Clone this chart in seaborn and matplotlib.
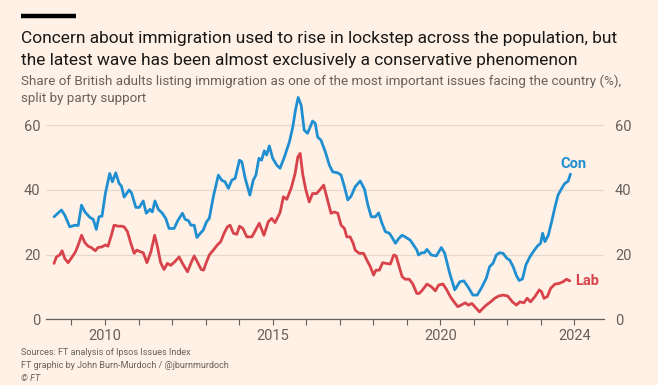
import matplotlib
matplotlib.use("Agg")
import matplotlib.pyplot as plt
from matplotlib import font_manager
from matplotlib.lines import Line2D
import pandas as pd
import seaborn as sns

# ── data ──
con_year = [2008.48, 2008.70, 2008.80, 2008.95, 2009.10, 2009.20, 2009.30, 2009.40, 2009.55, 2009.65,
            2009.74, 2009.82, 2009.91, 2010.01, 2010.14, 2010.22, 2010.32, 2010.42, 2010.49, 2010.57,
            2010.72, 2010.79, 2010.92, 2011.02, 2011.14, 2011.23, 2011.34, 2011.41, 2011.49, 2011.59,
            2011.71, 2011.81, 2011.91, 2012.06, 2012.18, 2012.31, 2012.39, 2012.49, 2012.56, 2012.66,
            2012.74, 2012.86, 2012.93, 2013.03, 2013.11, 2013.23, 2013.38, 2013.48, 2013.58, 2013.68,
            2013.78, 2013.88, 2014.01, 2014.08, 2014.18, 2014.32, 2014.42, 2014.50, 2014.59, 2014.67,
            2014.75, 2014.82, 2014.90, 2015.00, 2015.12, 2015.22, 2015.35, 2015.50, 2015.60, 2015.68,
            2015.76, 2015.85, 2015.94, 2016.04, 2016.12, 2016.19, 2016.27, 2016.34, 2016.44, 2016.57,
            2016.69, 2016.79, 2016.94, 2017.04, 2017.14, 2017.24, 2017.34, 2017.46, 2017.61, 2017.74,
            2017.84, 2017.94, 2018.06, 2018.16, 2018.26, 2018.36, 2018.48, 2018.58, 2018.66, 2018.76,
            2018.86, 2018.95, 2019.10, 2019.20, 2019.30, 2019.35, 2019.45, 2019.53, 2019.60, 2019.73,
            2019.88, 2020.03, 2020.13, 2020.28, 2020.43, 2020.58, 2020.70, 2020.82, 2020.97, 2021.10,
            2021.22, 2021.37, 2021.47, 2021.57, 2021.67, 2021.77, 2021.87, 2021.98, 2022.07, 2022.17,
            2022.27, 2022.35, 2022.45, 2022.55, 2022.67, 2022.77, 2022.89, 2022.99, 2023.05, 2023.12,
            2023.22, 2023.32, 2023.42, 2023.51, 2023.62, 2023.71, 2023.81, 2023.88]
con_share = [31.7, 33.8, 32.2, 28.6, 29.1, 29.0, 35.3, 33.2, 31.5, 30.9,
             27.8, 31.7, 31.9, 38.9, 45.1, 42.5, 45.3, 42.0, 41.2, 37.8,
             40.0, 39.1, 34.6, 34.6, 36.6, 32.8, 34.0, 33.2, 36.6, 34.0,
             32.8, 31.2, 28.1, 28.1, 30.7, 32.8, 30.9, 30.5, 29.1, 29.1,
             25.3, 26.8, 27.6, 30.2, 31.2, 37.9, 44.6, 43.0, 42.5, 40.5,
             43.0, 43.6, 49.2, 48.7, 43.6, 38.4, 43.0, 44.6, 49.8, 49.2,
             52.1, 50.8, 53.6, 49.8, 47.7, 46.7, 50.2, 54.9, 59.5, 64.7,
             68.6, 66.2, 58.5, 57.5, 59.5, 61.3, 60.6, 56.4, 55.4, 51.8,
             47.7, 45.6, 45.3, 44.6, 41.0, 36.9, 38.1, 41.0, 42.8, 40.2,
             35.3, 31.7, 31.7, 32.9, 29.7, 27.1, 26.6, 25.0, 23.5, 25.0,
             26.0, 25.5, 24.5, 23.0, 21.4, 19.9, 20.6, 20.6, 21.6, 19.9,
             19.6, 22.2, 20.4, 14.2, 9.1, 11.6, 11.9, 10.1, 7.5, 7.5,
             9.6, 12.7, 16.3, 17.3, 19.9, 20.6, 20.4, 18.9, 18.3, 16.3,
             13.5, 12.0, 12.5, 16.8, 19.3, 20.9, 22.6, 23.5, 26.6, 24.0,
             26.0, 30.2, 34.8, 38.4, 40.5, 42.0, 42.7, 44.9]

lab_year = [2008.48, 2008.55, 2008.65, 2008.72, 2008.80, 2008.90, 2009.02, 2009.12, 2009.22, 2009.30,
            2009.40, 2009.50, 2009.59, 2009.71, 2009.79, 2009.91, 2010.01, 2010.09, 2010.19, 2010.27,
            2010.39, 2010.49, 2010.57, 2010.67, 2010.77, 2010.87, 2010.95, 2011.05, 2011.14, 2011.25,
            2011.37, 2011.48, 2011.56, 2011.66, 2011.76, 2011.86, 2011.96, 2012.08, 2012.21, 2012.31,
            2012.46, 2012.56, 2012.66, 2012.75, 2012.87, 2012.94, 2013.01, 2013.11, 2013.23, 2013.35,
            2013.45, 2013.55, 2013.65, 2013.73, 2013.83, 2013.93, 2014.01, 2014.11, 2014.23, 2014.38,
            2014.50, 2014.60, 2014.74, 2014.87, 2014.97, 2015.07, 2015.22, 2015.32, 2015.42, 2015.55,
            2015.67, 2015.75, 2015.82, 2015.90, 2015.99, 2016.09, 2016.19, 2016.31, 2016.42, 2016.52,
            2016.61, 2016.74, 2016.84, 2016.94, 2017.04, 2017.14, 2017.21, 2017.31, 2017.40, 2017.46,
            2017.58, 2017.71, 2017.81, 2017.91, 2018.01, 2018.08, 2018.18, 2018.28, 2018.38, 2018.51,
            2018.61, 2018.68, 2018.76, 2018.86, 2018.95, 2019.07, 2019.17, 2019.30, 2019.37, 2019.47,
            2019.60, 2019.73, 2019.85, 2019.95, 2020.08, 2020.18, 2020.31, 2020.43, 2020.52, 2020.62,
            2020.74, 2020.84, 2020.94, 2021.07, 2021.17, 2021.27, 2021.37, 2021.50, 2021.62, 2021.74,
            2021.87, 2022.01, 2022.15, 2022.27, 2022.37, 2022.49, 2022.59, 2022.69, 2022.82, 2022.95,
            2023.02, 2023.09, 2023.19, 2023.29, 2023.42, 2023.54, 2023.66, 2023.76, 2023.86]
lab_share = [17.3, 19.3, 19.9, 21.2, 18.8, 17.5, 19.3, 20.9, 23.5, 26.0,
             23.7, 22.6, 22.2, 21.2, 22.2, 22.4, 23.0, 22.6, 26.0, 29.1,
             28.8, 28.8, 28.6, 27.1, 23.5, 20.4, 21.4, 20.9, 20.6, 17.5,
             20.9, 26.0, 22.6, 17.5, 15.4, 17.3, 16.7, 17.8, 19.3, 17.3,
             14.7, 17.3, 19.6, 17.8, 15.4, 15.2, 17.3, 19.9, 21.4, 23.0,
             24.0, 26.6, 28.6, 29.1, 26.6, 26.3, 28.8, 28.1, 25.5, 25.5,
             27.8, 29.7, 26.0, 30.2, 31.2, 29.9, 33.0, 37.9, 37.1, 40.5,
             45.1, 50.2, 51.3, 44.6, 40.0, 36.3, 38.9, 38.9, 40.2, 41.5,
             37.9, 32.8, 33.2, 32.8, 29.1, 28.1, 25.5, 25.5, 23.5, 21.4,
             20.4, 20.4, 18.3, 16.3, 13.7, 15.2, 15.2, 17.5, 17.3, 17.1,
             19.9, 19.6, 16.8, 13.2, 12.4, 12.4, 11.1, 8.0, 8.0, 9.1,
             10.9, 10.1, 8.8, 10.6, 10.9, 9.3, 6.8, 5.1, 3.9, 4.4,
             5.1, 4.4, 4.9, 3.4, 2.3, 3.4, 4.4, 5.4, 6.5, 7.2,
             7.5, 7.2, 5.4, 4.4, 5.4, 5.1, 6.5, 5.4, 7.0, 9.1,
             8.5, 6.5, 7.0, 9.6, 10.9, 11.1, 11.6, 12.4, 11.9]

y_ticks = [0, 20, 40, 60]
year_ticks = list(range(2009, 2025))
year_labels = [2010, 2015, 2020, 2024]

# ── 样式 ──
BG = "#fff1e5"
CON = "#1f8fd2"
LAB = "#d8434b"
GREY = "#66605c"
GRID = "#e5d9cf"

sns.set_theme(style="white")
names = {f.name for f in font_manager.fontManager.ttflist}
family = [f for f in ["Liberation Sans Narrow", "Roboto", "DejaVu Sans"] if f in names]
plt.rcParams["font.family"] = family

df = pd.concat([
    pd.DataFrame({"year": con_year, "share": con_share, "party": "Con"}),
    pd.DataFrame({"year": lab_year, "share": lab_share, "party": "Lab"}),
])

fig = plt.figure(figsize=(6.58, 3.85), dpi=100, facecolor=BG)
ax = fig.add_axes([0.0699, 0.1706, 0.848, 0.588])
ax.set_facecolor(BG)

sns.lineplot(data=df, x="year", y="share", hue="party",
             palette={"Con": CON, "Lab": LAB}, linewidth=2.0,
             estimator=None, sort=False, legend=False, ax=ax)

ax.set_xlim(2008.24, 2024.88)
ax.set_ylim(0, 70)
ax.set_xlabel("")
ax.set_ylabel("")

ax.set_xticks(year_ticks)
ax.set_xticklabels([str(y) if y in year_labels else "" for y in year_ticks])
ax.tick_params(axis="x", direction="out", length=4, width=0.8, color=GREY,
               labelcolor=GREY, labelsize=10.5, pad=3, bottom=True)

ax.set_yticks(y_ticks)
ax.tick_params(axis="y", length=0, labelcolor=GREY, labelsize=10.5, pad=4)
ax.yaxis.grid(True, color=GRID, linewidth=0.9)
ax.xaxis.grid(False)
for side in ["top", "left", "right"]:
    ax.spines[side].set_visible(False)
ax.spines["bottom"].set_color(GREY)
ax.spines["bottom"].set_linewidth(0.9)
ax.spines["bottom"].set_zorder(3)

# 右侧刻度
ax2 = ax.twinx()
ax2.set_ylim(ax.get_ylim())
ax2.set_yticks(y_ticks)
ax2.tick_params(axis="y", length=0, labelcolor=GREY, labelsize=10.5, pad=8)
for side in ax2.spines:
    ax2.spines[side].set_visible(False)
ax2.grid(False)

# 线尾标签
ax.text(2023.98, 48.0, "Con", color=CON, fontsize=10.5, fontweight="bold",
        ha="center", va="center")
ax.text(2024.37, 11.8, "Lab", color=LAB, fontsize=10.5, fontweight="bold",
        ha="center", va="center")

# 标题区
fig.add_artist(Line2D([21 / 658, 76 / 658], [1 - 16 / 385, 1 - 16 / 385],
                      color="black", linewidth=3.2, solid_capstyle="butt"))
fig.text(21 / 658, 1 - 43 / 385,
         "Concern about immigration used to rise in lockstep across the population, but",
         fontsize=12.5, color="#1a1817", va="baseline")
fig.text(21 / 658, 1 - 65 / 385,
         "the latest wave has been almost exclusively a conservative phenomenon",
         fontsize=12.5, color="#1a1817", va="baseline")
fig.text(21 / 658, 1 - 85 / 385,
         "Share of British adults listing immigration as one of the most important issues facing the country (%),",
         fontsize=9.6, color=GREY, va="baseline")
fig.text(21 / 658, 1 - 102 / 385, "split by party support",
         fontsize=9.6, color=GREY, va="baseline")

fig.text(21 / 658, 1 - 355 / 385, "Sources: FT analysis of Ipsos Issues Index",
         fontsize=6.5, color=GREY, va="baseline")
fig.text(21 / 658, 1 - 368 / 385, "FT graphic by John Burn-Murdoch / @jburnmurdoch",
         fontsize=6.5, color=GREY, va="baseline")
fig.text(21 / 658, 1 - 381 / 385, "© FT",
         fontsize=6.5, color=GREY, va="baseline", style="italic")

fig.savefig("out.png", dpi=100, facecolor=BG)
plt.close(fig)
